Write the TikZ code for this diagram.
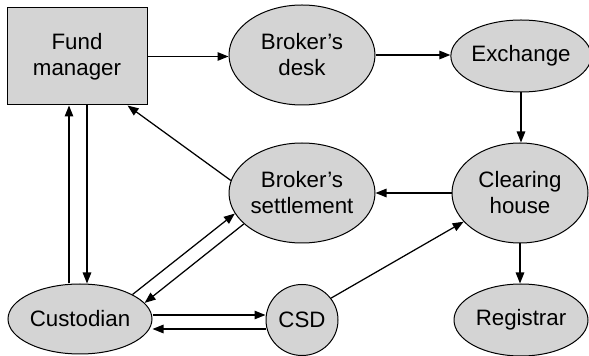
\documentclass[tikz,border=0pt]{standalone}
\usepackage{fontspec}
\setmainfont{Liberation Sans}
\usetikzlibrary{shapes.geometric,arrows.meta}
\definecolor{shade}{RGB}{212,212,212}
\begin{document}
\begin{tikzpicture}[x=1pt,y=1pt,
  every node/.style={font=\fontsize{22.3}{26}\selectfont, align=center, inner sep=0pt},
  boxnode/.style={draw=black, fill=shade, line width=1pt, rectangle},
  ovalnode/.style={draw=black, fill=shade, line width=1pt, ellipse},
  arr/.style={line width=1.25pt, -{Triangle[length=11pt,width=8.5pt]}}]
\useasboundingbox (0,0) rectangle (589,356);

% participants
\node[boxnode, minimum width=140pt, minimum height=97pt] (fm) at (77,299.5) {Fund\\manager};
\node[ovalnode, minimum width=146pt, minimum height=100pt] (bd) at (302,301) {Broker’s\\desk};
\node[ovalnode, minimum width=134pt, minimum height=72pt] (ex) at (521,300) {Exchange};
\node[ovalnode, minimum width=136pt, minimum height=100pt] (ch) at (520,163) {Clearing\\house};
\node[ovalnode, minimum width=146pt, minimum height=100pt] (bs) at (302,163) {Broker’s\\settlement};
\node[ovalnode, minimum width=144pt, minimum height=70pt] (cu) at (80,37) {Custodian};
\node[ovalnode, minimum width=72pt, minimum height=71pt] (csd) at (302,36) {CSD};
\node[ovalnode, minimum width=134pt, minimum height=72pt] (rg) at (521,36) {Registrar};

% trading flow
\draw[arr] (fm.east) -- (fm.east -| bd.west);
\draw[arr] (bd.east) -- (bd.east -| ex.west);
\draw[arr] (ex.south) -- (ex.south |- ch.north);
\draw[arr] (ch.west) -- (ch.west -| bs.east);
\draw[arr] (ch.south) -- (ch.south |- rg.north);

% settlement flow
\draw[arr] (bs.170.4) -- ([xshift=-20pt]fm.south east);
\coordinate (fmU) at ([xshift=-8pt]fm.south);
\coordinate (fmD) at ([xshift=10pt]fm.south);
\draw[arr] (fmU |- cu.north) -- (fmU);
\draw[arr] (fmD) -- (fmD |- cu.north);
\draw[arr] (cu.25.7) -- (bs.197.4);
\draw[arr] (bs.208.5) -- (cu.14.2);
\draw[arr] ([yshift=4pt]cu.east) -- ([yshift=4pt]cu.east -| csd.west);
\draw[arr] ([yshift=-10pt]cu.east -| csd.west) -- ([yshift=-10pt]cu.east);
\draw[arr] (csd.37.2) -- (ch.207.3);
\end{tikzpicture}
\end{document}
